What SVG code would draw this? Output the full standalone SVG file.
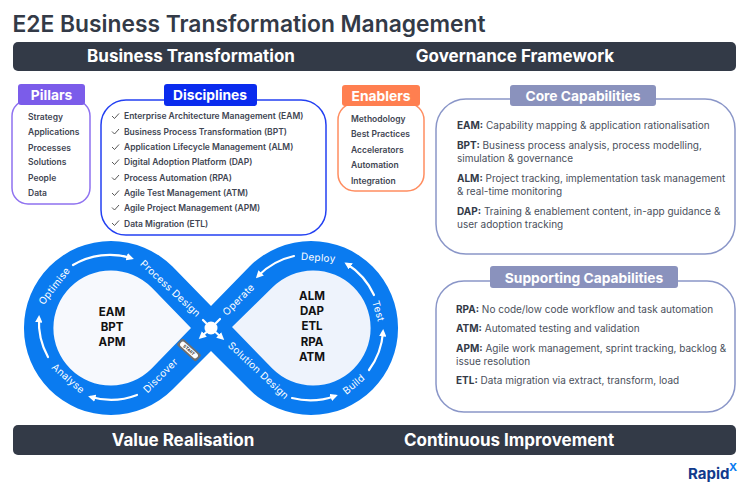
<svg xmlns="http://www.w3.org/2000/svg" width="750" height="490" viewBox="0 0 750 490">
<style>
text{font-family:"Inter","Noto Sans","Liberation Sans",sans-serif}
.bar{fill:#333a47}
.barT{fill:#fff;font-size:17px;font-weight:700;text-anchor:middle}
.hd{fill:#fff;font-size:13.800px;font-weight:700;text-anchor:middle}
.box{fill:#fff;stroke-width:1.5}
.li{fill:#3f4653;font-size:8.500px;font-weight:600}
.ck{fill:none;stroke:#444;stroke-width:.9}
.cap{fill:#4a505c;font-size:10px}
.cap tspan.b{font-weight:700;fill:#333a47}
.lp{fill:#fff;font-size:10px;text-anchor:middle;letter-spacing:.3px}
.ac{fill:none;stroke:#fff;stroke-width:2.200;stroke-linecap:round}
.mid{fill:#111;font-size:11.500px;font-weight:700;text-anchor:middle}
</style>
<defs><marker id="ah" viewBox="0 0 10 10" refX="6" refY="5" markerWidth="3.400" markerHeight="3.400" orient="auto"><path d="M0 0L10 5L0 10Z" fill="#fff"/></marker></defs>
<text id="title" x="12.500" y="32" font-size="22.800" font-weight="600" fill="#333a47">E2E Business Transformation Management</text>
<g id="top-bar"><rect class="bar" x="13" y="42" width="723" height="29" rx="5"/><text class="barT" x="191" y="62">Business Transformation</text><text class="barT" x="515" y="62">Governance Framework</text></g>
<g id="pillars"><rect class="box" x="12" y="100" width="78" height="104" rx="16" stroke="#8f72f0"/><rect x="18" y="84" width="67" height="21" rx="3" fill="#7b5cea"/><text class="hd" x="51.500" y="100">Pillars</text>
<text class="li" x="28" y="120">Strategy</text><text class="li" x="28" y="135">Applications</text><text class="li" x="28" y="151">Processes</text><text class="li" x="28" y="165">Solutions</text><text class="li" x="28" y="181">People</text><text class="li" x="28" y="196">Data</text></g>
<g id="disciplines"><rect class="box" x="101" y="100" width="225" height="135" rx="25" stroke="#2340f2"/><rect x="164" y="84" width="93" height="22" rx="3" fill="#0a2bee"/><text class="hd" x="210" y="100">Disciplines</text>
<path class="ck" d="M112 116l2.500 2.500 4.500-5M112 131.500l2.500 2.500 4.500-5M112 147l2.500 2.500 4.500-5M112 162l2.500 2.500 4.500-5M112 177.500l2.500 2.500 4.500-5M112 193l2.500 2.500 4.500-5M112 207.500l2.500 2.500 4.500-5M112 223l2.500 2.500 4.500-5"/>
<text class="li" x="124" y="119">Enterprise Architecture Management (EAM)</text><text class="li" x="124" y="135">Business Process Transformation (BPT)</text><text class="li" x="124" y="150">Application Lifecycle Management (ALM)</text><text class="li" x="124" y="165">Digital Adoption Platform (DAP)</text><text class="li" x="124" y="181">Process Automation (RPA)</text><text class="li" x="124" y="196">Agile Test Management (ATM)</text><text class="li" x="124" y="211">Agile Project Management (APM)</text><text class="li" x="124" y="227">Data Migration (ETL)</text></g>
<g id="enablers"><rect class="box" x="338" y="103" width="86" height="88" rx="17" stroke="#ff8d60"/><rect x="342" y="85" width="78" height="21" rx="3" fill="#ff7f50"/><text class="hd" x="381" y="101">Enablers</text>
<text class="li" x="351" y="122">Methodology</text><text class="li" x="351" y="137">Best Practices</text><text class="li" x="351" y="153">Accelerators</text><text class="li" x="351" y="168">Automation</text><text class="li" x="351" y="184">Integration</text></g>
<g id="core"><rect class="box" x="436" y="99" width="299" height="155" rx="30" stroke="#8a96c8"/><rect x="510" y="85" width="146" height="21" rx="3" fill="#8a92bd"/><text class="hd" x="583" y="101">Core Capabilities</text>
<text class="cap" x="457" y="129"><tspan class="b">EAM:</tspan> Capability mapping &amp; application rationalisation</text>
<text class="cap" x="457" y="149"><tspan class="b">BPT:</tspan> Business process analysis, process modelling,</text><text class="cap" x="457" y="162">simulation &amp; governance</text>
<text class="cap" x="457" y="182"><tspan class="b">ALM:</tspan> Project tracking, implementation task management</text><text class="cap" x="457" y="195">&amp; real-time monitoring</text>
<text class="cap" x="457" y="215"><tspan class="b">DAP:</tspan> Training &amp; enablement content, in-app guidance &amp;</text><text class="cap" x="457" y="228">user adoption tracking</text></g>
<g id="supporting"><rect class="box" x="436" y="281" width="299" height="131" rx="28" stroke="#8a96c8"/><rect x="490" y="266" width="188" height="22" rx="3" fill="#8a92bd"/><text class="hd" x="584" y="283">Supporting Capabilities</text>
<text class="cap" x="456" y="313"><tspan class="b">RPA:</tspan> No code/low code workflow and task automation</text>
<text class="cap" x="456" y="332"><tspan class="b">ATM:</tspan> Automated testing and validation</text>
<text class="cap" x="456" y="352"><tspan class="b">APM:</tspan> Agile work management, sprint tracking, backlog &amp;</text><text class="cap" x="456" y="365">issue resolution</text>
<text class="cap" x="456" y="384"><tspan class="b">ETL:</tspan> Data migration via extract, transform, load</text></g>
<g id="loop">
<path d="M211 306L172.500 266.500A87 87 0 1 0 172.500 389.500L211 351L249.500 389.500A87 87 0 1 0 249.500 266.500Z" fill="#0a7bf0"/>
<path d="M191 328L151.700 287.500A57.500 57.500 0 1 0 151.700 368.500Z" fill="#f7f9fd"/>
<path d="M232 327L272.300 287.500A57.500 57.500 0 1 1 272.300 368.500Z" fill="#eef3fc"/>
<text class="mid" x="112" y="316">EAM</text><text class="mid" x="112" y="331">BPT</text><text class="mid" x="112" y="346">APM</text>
<text class="mid" x="312" y="300">ALM</text><text class="mid" x="312" y="315">DAP</text><text class="mid" x="312" y="330">ETL</text><text class="mid" x="312" y="346">RPA</text><text class="mid" x="312" y="361">ATM</text>
<text class="lp" transform="translate(168 291) rotate(43)">Process Design</text>
<text class="lp" transform="translate(256 373) rotate(43)">Solution Design</text>
<text class="lp" transform="translate(163 378) rotate(-45)">Discover</text>
<text class="lp" transform="translate(241 302) rotate(-45)">Operate</text>
<text class="lp" transform="translate(66 381) rotate(41)">Analyse</text>
<text class="lp" transform="translate(57 288) rotate(-52)">Optimise</text>
<text class="lp" transform="translate(318 261) rotate(4)">Deploy</text>
<text class="lp" transform="translate(375 312) rotate(74)">Test</text>
<text class="lp" transform="translate(356 387) rotate(-40)">Build</text>
</g>
<g id="connectors">
<path class="ac" marker-end="url(#ah)" d="M73 265A72 72 0 0 1 131 258"/>
<path class="ac" marker-end="url(#ah)" d="M48 357A72 72 0 0 1 39 318"/>
<path class="ac" marker-end="url(#ah)" d="M137 395A72 72 0 0 1 91 397"/>
<path class="ac" marker-end="url(#ah)" d="M294 256A72 72 0 0 0 258 276"/>
<path class="ac" marker-end="url(#ah)" d="M374 295A72 72 0 0 0 347 264"/>
<path class="ac" marker-end="url(#ah)" d="M369 370A72 72 0 0 0 383 332"/>
<path class="ac" marker-end="url(#ah)" d="M292 398A72 72 0 0 0 335 396"/>
<path class="ac" d="M211 328L220 319M211 328L203 320"/>
<path class="ac" marker-end="url(#ah)" d="M211 328L201 337"/>
<path class="ac" marker-end="url(#ah)" d="M211 328L222 338"/>
<circle cx="211" cy="328" r="6.500" fill="#fff"/>
</g>
<g id="start"><g transform="translate(189 350) rotate(42)"><rect x="-13" y="-4.500" width="26" height="9" rx="2" fill="#6f6f6f"/><rect x="-11" y="-2.800" width="22" height="5.600" rx="2.800" fill="#fff"/><text x="0" y="1.500" font-size="4.200" font-weight="700" text-anchor="middle" fill="#333">START</text></g></g>
<g id="bottom-bar"><rect class="bar" x="13" y="425" width="723" height="30" rx="5"/><text class="barT" x="183" y="446">Value Realisation</text><text class="barT" x="509" y="446">Continuous Improvement</text></g>
<g id="logo"><text x="688" y="479" font-size="15" font-weight="700" fill="#123a8c">Rapid</text><text x="729" y="471" font-size="11" font-weight="700" fill="#0a7bf0">X</text></g>
</svg>
